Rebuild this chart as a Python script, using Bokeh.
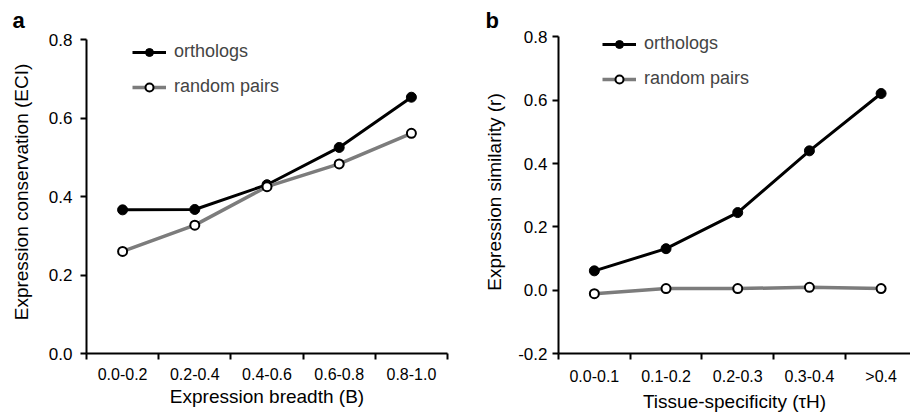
from bokeh.plotting import figure
from bokeh.layouts import row
from bokeh.models import (FixedTicker, PrintfTickFormatter, Legend, LegendItem, Range1d)
from bokeh.embed import file_html
from bokeh.resources import INLINE

# ---- data ----
cats_a = ["0.0-0.2", "0.2-0.4", "0.4-0.6", "0.6-0.8", "0.8-1.0"]
orth_a = [0.366, 0.367, 0.430, 0.525, 0.653]
rand_a = [0.260, 0.327, 0.425, 0.483, 0.561]

cats_b = ["0.0-0.1", "0.1-0.2", "0.2-0.3", "0.3-0.4", ">0.4"]
orth_b = [0.061, 0.131, 0.245, 0.440, 0.621]
rand_b = [-0.011, 0.005, 0.005, 0.009, 0.005]

yticks_a = [0.0, 0.2, 0.4, 0.6, 0.8]
yticks_b = [-0.2, 0.0, 0.2, 0.4, 0.6, 0.8]

FONT = "Liberation Sans"
GRAY = "#7c7c7c"


def make_panel(cats, orth, rand, yticks, ylabel, xlabel, letter, width, height,
               bl, br, bt, bb, x_end, legend_loc, y_lo, y_hi, y_axis_top, ytick_standoff,
               ylabel_standoff, letter_offset, letter_standoff):
    n = len(cats)
    xs = list(range(1, n + 1))
    p = figure(width=width, height=height, output_backend="svg", toolbar_location=None,
               x_range=Range1d(0.5, x_end), y_range=Range1d(y_lo, y_hi),
               min_border_left=bl, min_border_right=br, min_border_top=bt, min_border_bottom=bb)
    p.outline_line_color = None
    p.grid.visible = False
    p.background_fill_color = "white"
    p.border_fill_color = "white"

    # panel letter
    p.title.text = letter
    p.title.align = "left"
    p.title.offset = letter_offset
    p.title.standoff = letter_standoff
    p.title.text_font = FONT
    p.title.text_font_size = "22px"
    p.title.text_font_style = "bold"
    p.title.text_color = "black"

    # x axis: labels at category centres, ticks at boundaries
    p.xaxis.ticker = FixedTicker(ticks=xs, minor_ticks=[i + 0.5 for i in range(0, n + 1)])
    p.xaxis.major_label_overrides = {x: c for x, c in zip(xs, cats)}
    p.xaxis.major_tick_line_color = None
    p.xaxis.major_tick_out = 0
    p.xaxis.major_tick_in = 0
    p.xaxis.minor_tick_out = 6
    p.xaxis.minor_tick_in = 0
    p.xaxis.minor_tick_line_width = 2
    p.xaxis.minor_tick_line_color = "black"
    p.xaxis.major_label_standoff = 8
    p.xaxis.major_label_text_font_size = "16px"
    p.xaxis.axis_label = xlabel
    p.xaxis.axis_label_standoff = 3

    p.yaxis.ticker = FixedTicker(ticks=yticks, minor_ticks=[])
    p.yaxis.formatter = PrintfTickFormatter(format="%.1f")
    p.yaxis.bounds = (y_lo, y_axis_top)
    p.yaxis.major_tick_out = 6
    p.yaxis.major_tick_in = 0
    p.yaxis.major_tick_line_width = 2
    p.yaxis.major_label_standoff = ytick_standoff
    p.yaxis.major_label_text_font_size = "17px"
    p.yaxis.axis_label = ylabel
    p.yaxis.axis_label_standoff = ylabel_standoff

    for ax in (p.xaxis, p.yaxis):
        ax.axis_line_width = 2
        ax.axis_line_color = "black"
        ax.major_label_text_font = FONT
        ax.major_label_text_color = "black"
        ax.axis_label_text_font = FONT
        ax.axis_label_text_font_style = "normal"
        ax.axis_label_text_font_size = "19px"
        ax.axis_label_text_color = "black"

    l1 = p.line(xs, orth, line_color="black", line_width=3)
    s1 = p.scatter(xs, orth, size=10, fill_color="black", line_color="black")
    l2 = p.line(xs, rand, line_color=GRAY, line_width=3.5)
    s2 = p.scatter(xs, rand, size=9, fill_color="white", line_color="black", line_width=2)

    leg = Legend(items=[LegendItem(label="orthologs", renderers=[l1, s1]),
                        LegendItem(label="random pairs", renderers=[l2, s2])],
                 location=legend_loc, margin=0, padding=0, border_line_color=None,
                 background_fill_alpha=0, glyph_width=34, glyph_height=20,
                 label_height=20, spacing=14, label_standoff=8,
                 label_text_font=FONT, label_text_font_size="18px")
    p.add_layout(leg, "center")
    return p


# shared frame top at 30 px; frame bottom at 353 px
pa = make_panel(cats_a, orth_a, rand_a, yticks_a, "Expression conservation (ECI)",
                "Expression breadth (B)", "a", 460, 414, 86, 13, 30, 61, 5.5, (46, 256),
                0.0, 0.823, 0.8, 8, 14, -74, -4)
pb = make_panel(cats_b, orth_b, rand_b, yticks_b, "Expression similarity (r)",
                "Tissue-specificity (\u03c4H)", "b", 450, 414, 98, 0, 30, 61, 5.41, (44, 264),
                -0.2, 0.82, 0.8, 5, 10, -73, -4)

layout = row(pa, pb)
open("out.html", "w").write(file_html(layout, INLINE))
